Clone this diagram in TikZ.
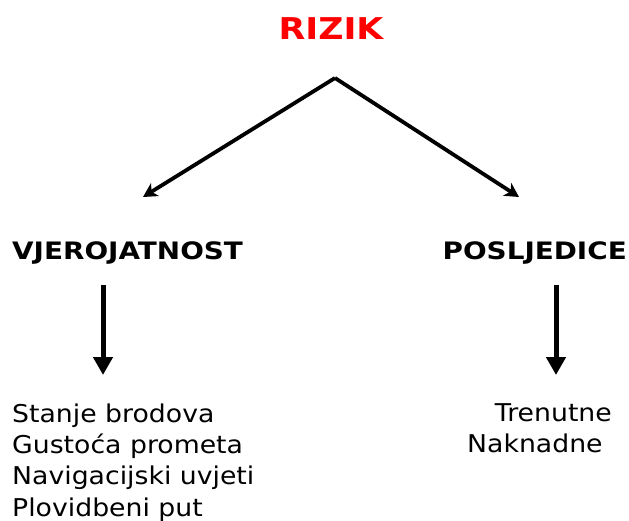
\documentclass[tikz,border=0pt]{standalone}
\usepackage{fontspec}
\setmainfont{DejaVu Sans}
\usetikzlibrary{arrows.meta}
\begin{document}
\begin{tikzpicture}[x=1pt,y=-1pt,
  title/.style={font=\fontsize{30}{36}\selectfont\bfseries\addfontfeature{FakeStretch=1.16}, text=red, inner sep=0pt, anchor=base},
  head/.style={font=\fontsize{24}{29}\selectfont\bfseries\addfontfeature{FakeStretch=1.16}, inner sep=0pt},
  item/.style={font=\fontsize{24.5}{31.5}\selectfont\addfontfeature{FakeStretch=1.09}, inner sep=0pt, align=left},
  link/.style={line width=3.8pt, -{Stealth[length=14pt,width=15pt,inset=4pt]}},
  down/.style={line width=5pt, -{Triangle[length=18pt,width=19pt]}}]
  \useasboundingbox (0,0) rectangle (629,521);

  % title and the two branches
  \node[title] (risk) at (331,40) {RIZIK};
  \coordinate (apex) at (335,78);
  \coordinate (lend) at (143,197);
  \coordinate (rend) at (519,197);
  \draw[link, line join=miter] (apex) -- (lend);
  \draw[link] (apex) -- (rend);

  \node[head, anchor=base west] (prob) at (12,260) {VJEROJATNOST};
  \node[head, anchor=base east] (cons) at (627,260) {POSLJEDICE};

  % vertical arrows to the lists
  \coordinate (pa) at (103,285);
  \coordinate (pb) at (103,375);
  \coordinate (ca) at (556,285);
  \coordinate (cb) at (556,375);
  \draw[down] (pa) -- (pb);
  \draw[down] (ca) -- (cb);

  % factor lists
  \node[item, anchor=base west] (p1) at (12,422) {Stanje brodova};
  \node[item, anchor=base west] (p2) at (12,453) {Gustoća prometa};
  \node[item, anchor=base west] (p3) at (12,484.5) {Navigacijski uvjeti};
  \node[item, anchor=base west] (p4) at (12,516) {Plovidbeni put};

  \node[item, anchor=base east] (c1) at (612,421) {Trenutne};
  \node[item, anchor=base west] (c2) at (467,452) {Naknadne};
\end{tikzpicture}
\end{document}
